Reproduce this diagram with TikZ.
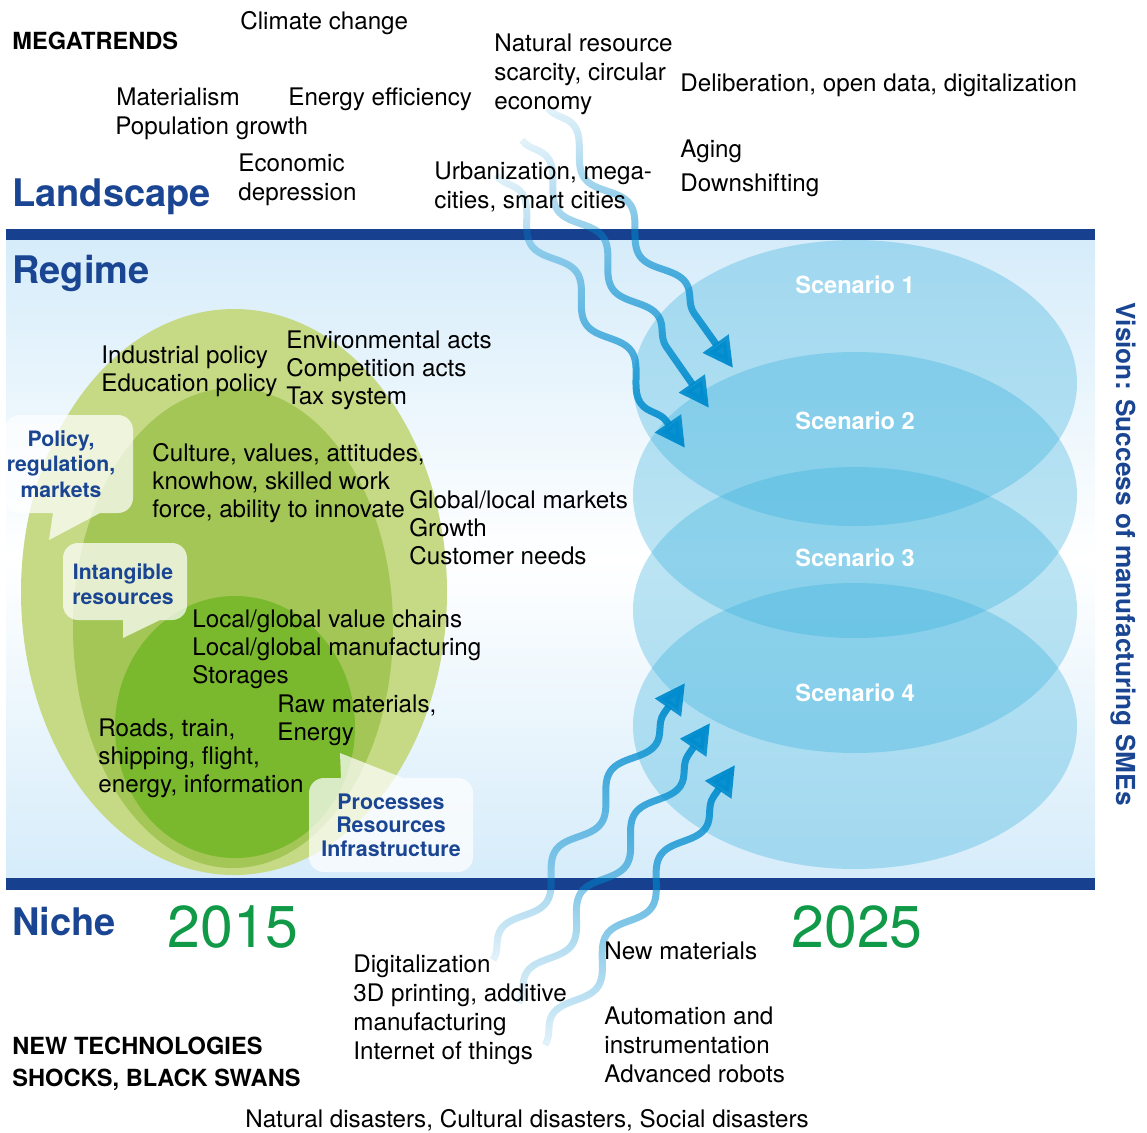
\documentclass[tikz,border=0pt]{standalone}
\usepackage{fontspec}
\setmainfont{TeX Gyre Heros}
\usetikzlibrary{decorations.pathmorphing}
\usetikzlibrary{arrows.meta}
\usetikzlibrary{fadings}
\usepackage{xcolor}

\definecolor{barblue}{RGB}{23,64,143}
\definecolor{headblue}{RGB}{26,69,146}
\definecolor{skyblue}{RGB}{214,236,250}
\definecolor{scenblue}{RGB}{51,175,220}
\definecolor{waveblue}{RGB}{0,140,206}
\definecolor{yeargreen}{RGB}{16,154,72}
\definecolor{greenA}{RGB}{198,217,133}
\definecolor{greenB}{RGB}{163,198,86}
\definecolor{greenC}{RGB}{122,185,45}

\tikzfading[name=fade down, top color=transparent!90, bottom color=transparent!0]
\tikzfading[name=fade up, bottom color=transparent!90, top color=transparent!0]

\begin{document}
\begin{tikzpicture}[x=0.5pt, y=-0.5pt,
        txt/.style={anchor=north west, inner sep=0pt, align=left, font=\fontsize{12.1}{14.5}\selectfont},
        regtxt/.style={txt, font=\fontsize{12.1}{14}\selectfont},
        heading/.style={anchor=north west, inner sep=0pt, text=headblue, font=\bfseries\fontsize{19}{22}\selectfont},
        capstxt/.style={anchor=north west, inner sep=0pt, align=left, font=\bfseries\fontsize{11.8}{16}\selectfont},
        year/.style={anchor=north west, inner sep=0pt, text=yeargreen, font=\fontsize{29.5}{30}\selectfont},
        bubtxt/.style={anchor=north, inner sep=0pt, align=center, text=headblue, font=\bfseries\fontsize{10.6}{12.8}\selectfont},
        scen/.style={text=white, inner sep=0pt, font=\bfseries\fontsize{11.8}{14}\selectfont},
        bubble/.style={fill=white, fill opacity=0.72},
        scenario/.style={fill=scenblue, fill opacity=0.33},
        bar/.style={fill=barblue},
        wave/.style={waveblue, line width=3.5pt, decorate,
            decoration={snake, segment length=48pt, amplitude=5.5pt, post length=14pt},
            -{Triangle[length=15pt, width=15pt]}}]
    \useasboundingbox (0,0) rectangle (1147,1132);

    % regime background
    \shade[top color=skyblue, bottom color=skyblue, middle color=white] (6,240) rectangle (1095,878);

    % nested green ellipses
    \fill[greenA] (234,592) ellipse [x radius=213, y radius=283];
    \fill[greenB] (233,628) ellipse [x radius=160, y radius=240];
    \fill[greenC] (235,727) ellipse [x radius=120, y radius=131];

    % speech bubbles
    \fill[bubble] (49,540) -- (100,513) [rounded corners=7.5pt] -- (133,513) -- (133,415) -- (5,415) -- (5,513) [sharp corners] -- (53,513) -- cycle;
    \fill[bubble] (123,638) -- (160,620) [rounded corners=7.5pt] -- (187,620) -- (187,543) -- (63,543) -- (63,620) [sharp corners] -- (123,620) -- cycle;
    \fill[bubble] (340,753) -- (403,778) [rounded corners=7.5pt] -- (473,778) -- (473,872) -- (309,872) -- (309,778) [sharp corners] -- (341,778) -- cycle;

    % scenarios
    \foreach \cy in {383, 495, 610, 726}
        \fill[scenario] (855,\cy) ellipse [x radius=222, y radius=143];
    \foreach \i/\ly in {1/285, 2/421, 3/558, 4/693}
        \node[scen] (scen\i) at (855,\ly) {Scenario \i};

    % bars
    \fill[bar] (6,229) rectangle (1095,240);
    \fill[bar] (6,878) rectangle (1095,890);

    % wavy arrows from landscape
    \coordinate (la1) at (548,108);
    \coordinate (la2) at (733,368);
    \coordinate (lb1) at (522,140);
    \coordinate (lb2) at (709,408);
    \coordinate (lc1) at (496,175);
    \coordinate (lc2) at (685,448);
    \draw[wave, path fading=fade down] (la1) -- (la2);
    \draw[wave, path fading=fade down] (lb1) -- (lb2);
    \draw[wave, path fading=fade down] (lc1) -- (lc2);

    % wavy arrows from niche
    \coordinate (na1) at (493,960);
    \coordinate (na2) at (685,683);
    \coordinate (nb1) at (519,1003);
    \coordinate (nb2) at (710,723);
    \coordinate (nc1) at (545,1045);
    \coordinate (nc2) at (735,765);
    \draw[wave, path fading=fade up] (na1) -- (na2);
    \draw[wave, path fading=fade up] (nb1) -- (nb2);
    \draw[wave, path fading=fade up] (nc1) -- (nc2);

    % landscape
    \node[capstxt] (mega) at (12,32) {MEGATRENDS};
    \node[txt] (climate) at (240,11) {Climate change};
    \node[txt] (natres) at (494,33) {Natural resource\\scarcity, circular\\economy};
    \node[txt] (delib) at (680,73) {Deliberation, open data, digitalization};
    \node[txt] (materialism) at (116,87) {Materialism};
    \node[txt] (energyeff) at (288,87) {Energy efficiency};
    \node[txt] (popgrowth) at (115,116) {Population growth};
    \node[txt] (economic) at (238,153) {Economic\\depression};
    \node[txt] (urban) at (434,161) {Urbanization, mega-\\cities, smart cities};
    \node[txt] (aging) at (680,139) {Aging};
    \node[txt] (downshift) at (680,173) {Downshifting};
    \node[heading] (landscape) at (12,178) {Landscape};

    % regime
    \node[heading] (regime) at (12,255) {Regime};
    \node[regtxt] (acts) at (286,330) {Environmental acts\\Competition acts\\Tax system};
    \node[regtxt] (policy) at (101,345) {Industrial policy\\Education policy};
    \node[regtxt] (culture) at (152,443) {Culture, values, attitudes,\\knowhow, skilled work\\force, ability to innovate};
    \node[regtxt] (markets) at (409,490) {Global/local markets\\Growth\\Customer needs};
    \node[regtxt] (chains) at (192,609) {Local/global value chains\\Local/global manufacturing\\Storages};
    \node[regtxt] (raw) at (277,694) {Raw materials,\\Energy};
    \node[regtxt] (roads) at (98,718) {Roads, train,\\shipping, flight,\\energy, information};
    \node[bubtxt] (bubpolicy) at (61,430) {Policy,\\regulation,\\markets};
    \node[bubtxt] (bubintang) at (123,563) {Intangible\\resources};
    \node[bubtxt, font=\bfseries\fontsize{10.7}{11.8}\selectfont] (bubproc) at (391,793) {Processes\\Resources\\Infrastructure};
    \node[rotate=-90, text=headblue, font=\bfseries\fontsize{13.1}{15}\selectfont] (vision) at (1123,554) {Vision: Success of manufacturing SMEs};

    % niche
    \node[heading] (niche) at (12,907) {Niche};
    \node[year] (y2015) at (167,905) {2015};
    \node[year] (y2025) at (791,905) {2025};
    \node[txt] (digital) at (353,954) {Digitalization\\3D printing, additive\\manufacturing\\Internet of things};
    \node[txt] (newmat) at (604,941) {New materials};
    \node[txt] (automation) at (604,1006) {Automation and\\instrumentation\\Advanced robots};
    \node[capstxt] (newtech) at (12,1037) {NEW TECHNOLOGIES\\SHOCKS, BLACK SWANS};
    \node[txt] (disasters) at (245,1109) {Natural disasters, Cultural disasters, Social disasters};
\end{tikzpicture}
\end{document}
